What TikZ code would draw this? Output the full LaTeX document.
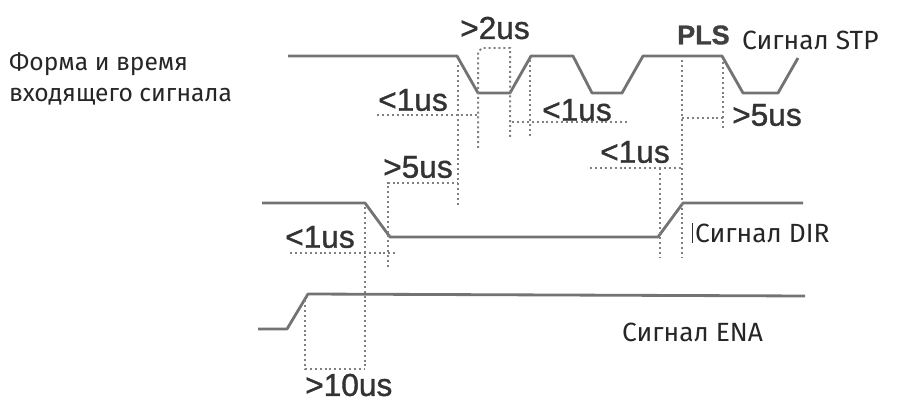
\documentclass[tikz,border=0pt]{standalone}
\usepackage{fontspec}
\setmainfont{Fira Sans}
\newfontfamily\wavefont[FakeBold=1.2]{Liberation Sans}
\usepackage{tikz}

\tikzset{
  wave/.style={draw=black!55, line width=2.4pt, line join=round},
  guide/.style={draw=black!50, line width=1.7pt, dash pattern=on 1.7pt off 2.5pt},
  tlabel/.style={font=\wavefont\fontsize{27}{27}\selectfont, text=black!80, inner sep=0pt, anchor=west},
  sigtext/.style={font=\fontsize{22.5}{27}\selectfont, text=black!85, inner sep=0pt, anchor=west},
}

\begin{document}
\begin{tikzpicture}[x=0.03cm, y=-0.03cm]
    \useasboundingbox (0,0) rectangle (922,401);

    \node[sigtext, font=\fontsize{21}{27}\selectfont, align=left] (title) at (9,79) {Форма и время\\входящего сигнала};
    \node[sigtext] (stp) at (742,40) {Сигнал STP};
    \node[sigtext] (dir) at (695,233) {Сигнал DIR};
    \node[sigtext] (ena) at (622,332) {Сигнал ENA};

    \node[tlabel] (gt2) at (460,28) {>2us};
    \node[tlabel] (lt1a) at (378,100) {<1us};
    \node[tlabel] (lt1b) at (542,110) {<1us};
    \node[tlabel, font=\wavefont\bfseries\fontsize{23}{23}\selectfont, text=black!75] (pls) at (677,35) {PLS};
    \node[tlabel] (gt5b) at (732,115) {>5us};
    \node[tlabel] (lt1c) at (600,152) {<1us};
    \node[tlabel] (gt5a) at (383,167) {>5us};
    \node[tlabel] (lt1d) at (285,237) {<1us};
    \node[tlabel] (gt10) at (305,385) {>10us};

    % waveforms
    \draw[wave] (288,56) -- (457,56) -- (478,93) -- (510,93) -- (531,56) -- (573,56)
        -- (592,93) -- (622,93) -- (643,56) -- (722,56) -- (743,93) -- (778,93) -- (798,58);
    \draw[wave] (262,203) -- (365,203) -- (390,237) -- (658,237) -- (683,203) -- (803,203);
    \draw[wave] (258,329) -- (287,329) -- (308,294) -- (805,296);

    % timing guides
    \draw[guide] (458,65) -- (458,205);
    \draw[guide] (377,115) -- (478,115);
    \draw[guide] (478,148) -- (478,52) -- (482,48) -- (510,48) -- (510,137);
    \draw[guide] (512,122) -- (627,122);
    \draw[guide] (530,60) -- (530,138);
    \draw[guide] (388,267) -- (388,183) -- (458,183);
    \draw[guide] (682,60) -- (682,258);
    \draw[guide] (723,62) -- (723,130);
    \draw[guide] (682,118) -- (723,118);
    \draw[guide] (590,168) -- (682,168);
    \draw[guide] (660,168) -- (660,257);
    \draw[guide] (290,253) -- (397,253);
    \draw[guide] (365,207) -- (365,369);
    \draw[guide] (305,300) -- (305,369) -- (365,369);

    \draw[black!80, line width=0.8pt] (692,223) -- (692,243);
\end{tikzpicture}
\end{document}
